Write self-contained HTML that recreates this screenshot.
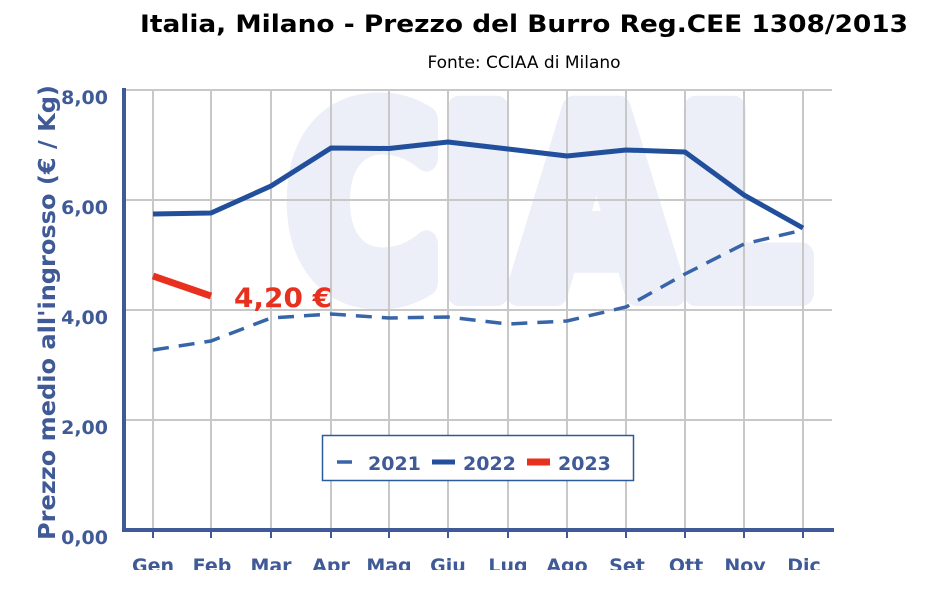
<!DOCTYPE html>
<html><head><meta charset="utf-8"><style>
body{margin:0;background:#fff;width:944px;height:598px;overflow:hidden}
svg{display:block;font-family:"DejaVu Sans","Liberation Sans",sans-serif;font-weight:bold}
</style></head><body>
<svg width="944" height="598" viewBox="0 0 944 598">
<text x="140" y="32" font-size="24" fill="#000" textLength="768" lengthAdjust="spacingAndGlyphs">Italia, Milano - Prezzo del Burro Reg.CEE 1308/2013</text>
<text x="524" y="68" text-anchor="middle" font-size="17" font-weight="normal" fill="#000">Fonte: CCIAA di Milano</text>
<text x="288" y="292" font-size="250" fill="#eceef8" stroke="#eceef8" stroke-width="28" stroke-linejoin="round" textLength="520" lengthAdjust="spacingAndGlyphs">CIAL</text>
<g stroke="#c8c8c8" stroke-width="2">
<line x1="124" y1="90" x2="832" y2="90"/><line x1="124" y1="200" x2="832" y2="200"/><line x1="124" y1="310" x2="832" y2="310"/><line x1="124" y1="420" x2="832" y2="420"/>
<line x1="153" y1="90" x2="153" y2="530"/><line x1="211" y1="90" x2="211" y2="530"/><line x1="271" y1="90" x2="271" y2="530"/><line x1="331" y1="90" x2="331" y2="530"/><line x1="389" y1="90" x2="389" y2="530"/><line x1="448" y1="90" x2="448" y2="530"/><line x1="508" y1="90" x2="508" y2="530"/><line x1="567" y1="90" x2="567" y2="530"/><line x1="626" y1="90" x2="626" y2="530"/><line x1="685" y1="90" x2="685" y2="530"/><line x1="744" y1="90" x2="744" y2="530"/><line x1="803" y1="90" x2="803" y2="530"/>
</g>
<g stroke="#3f5a96" stroke-width="4"><line x1="124" y1="88" x2="124" y2="532"/><line x1="122" y1="530" x2="834" y2="530"/></g>
<g stroke="#3f5a96" stroke-width="2"><line x1="153" y1="530" x2="153" y2="538"/><line x1="211" y1="530" x2="211" y2="538"/><line x1="271" y1="530" x2="271" y2="538"/><line x1="331" y1="530" x2="331" y2="538"/><line x1="389" y1="530" x2="389" y2="538"/><line x1="448" y1="530" x2="448" y2="538"/><line x1="508" y1="530" x2="508" y2="538"/><line x1="567" y1="530" x2="567" y2="538"/><line x1="626" y1="530" x2="626" y2="538"/><line x1="685" y1="530" x2="685" y2="538"/><line x1="744" y1="530" x2="744" y2="538"/><line x1="803" y1="530" x2="803" y2="538"/></g>
<g fill="#3f5a96" font-size="19" text-anchor="end"><text x="108" y="104">8,00</text><text x="108" y="214">6,00</text><text x="108" y="324">4,00</text><text x="108" y="434">2,00</text><text x="108" y="544">0,00</text></g>
<text transform="translate(55,540) rotate(-90)" font-size="23" fill="#3f5a96" textLength="455" lengthAdjust="spacingAndGlyphs">Prezzo medio all'ingrosso (€ / Kg)</text>
<svg x="0" y="540" width="944" height="30" overflow="hidden"><g fill="#3f5a96" font-size="19" text-anchor="middle"><text x="153" y="32">Gen</text><text x="212" y="32">Feb</text><text x="271" y="32">Mar</text><text x="331" y="32">Apr</text><text x="389" y="32">Mag</text><text x="448" y="32">Giu</text><text x="508" y="32">Lug</text><text x="567" y="32">Ago</text><text x="627" y="32">Set</text><text x="686" y="32">Ott</text><text x="745" y="32">Nov</text><text x="804" y="32">Dic</text></g></svg>
<polyline fill="none" stroke="#3765a8" stroke-width="3.5" stroke-dasharray="16,10" points="153,350 211,341 271,318 331,314 389,318 448,317 508,324 567,321 626,307 685,274 744,244 803,230"/>
<polyline fill="none" stroke="#224f9c" stroke-width="5" stroke-linejoin="round" points="153,214 211,213 271,186 331,148 389,148.5 448,142 508,149 567,156 626,150 685,152 744,195 803,228"/>
<line x1="153" y1="276" x2="211" y2="296" stroke="#e8301e" stroke-width="7"/>
<text x="234" y="307" font-size="27" fill="#e8301e" textLength="98" lengthAdjust="spacingAndGlyphs">4,20 €</text>
<rect x="322.5" y="435.5" width="311" height="45" fill="#fff" stroke="#2d5a9c" stroke-width="1.5"/>
<line x1="337" y1="462" x2="352" y2="462" stroke="#3765a8" stroke-width="3.5"/>
<text x="368" y="470" font-size="19" fill="#3f5a96">2021</text>
<line x1="432" y1="462" x2="455" y2="462" stroke="#224f9c" stroke-width="5"/>
<text x="463" y="470" font-size="19" fill="#3f5a96">2022</text>
<line x1="527" y1="462" x2="550" y2="462" stroke="#e8301e" stroke-width="7"/>
<text x="558" y="470" font-size="19" fill="#3f5a96">2023</text>
</svg>
</body></html>
